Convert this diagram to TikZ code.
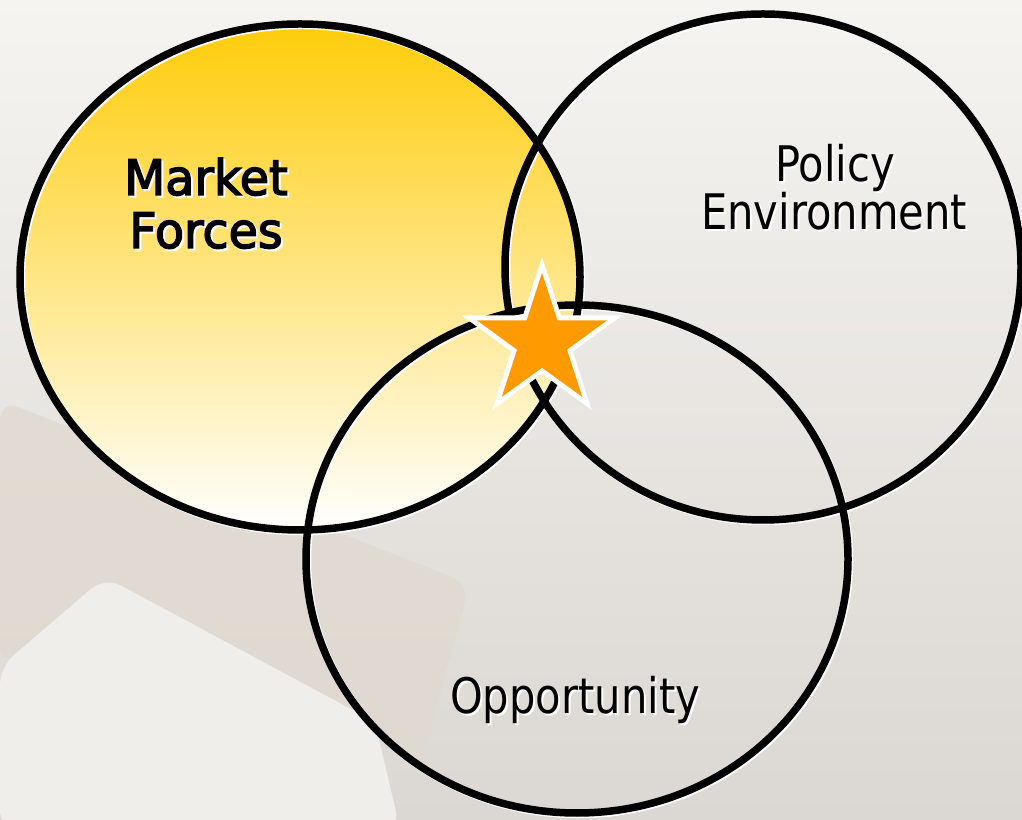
\documentclass[tikz,border=0pt]{standalone}
\usepackage{fontspec}
\newfontfamily\lblfont[FakeStretch=0.85]{DejaVu Sans}
\newfontfamily\mktfont[FakeStretch=0.97, FakeBold=3]{DejaVu Sans}
\definecolor{bgtop}{RGB}{245,244,241}
\definecolor{bgbot}{RGB}{219,215,210}
\definecolor{taupe}{RGB}{224,217,208}
\definecolor{paper}{RGB}{240,238,234}
\definecolor{goldtop}{RGB}{255,204,10}
\definecolor{goldmid}{RGB}{254,232,168}
\definecolor{starorange}{RGB}{255,155,0}
% text with a small white drop shadow
\newcommand\shadowed[1]{\leavevmode\rlap{\kern2pt\raisebox{-2pt}{\textcolor{white}{#1}}}#1}
\begin{document}
\begin{tikzpicture}[x=1pt,y=1pt,
  ring/.style={line width=7.5pt, draw=black},
  ringshadow/.style={line width=7.5pt, draw=white},
  label/.style={font={\lblfont\fontsize{49}{53}\selectfont}, inner sep=0pt, anchor=base},
  mktlabel/.style={label, font={\mktfont\fontsize{49}{53}\selectfont}}]
\useasboundingbox (0,0) rectangle (1022,819);

% backdrop
\shade[top color=bgtop, bottom color=bgbot] (0,0) rectangle (1022,819);
\fill[taupe, opacity=0.8, rounded corners=20pt]
  (0,419) -- (470,235) -- (420,50) -- (375,97) -- (105,242) -- (0,152) -- cycle;
\fill[paper, rounded corners=18pt]
  (0,152) -- (105,242) -- (375,97) -- (400,-10) -- (0,-10) -- cycle;

% filled circle: market forces
\shade[top color=goldtop, middle color=goldmid, bottom color=white]
  (300,542) ellipse [x radius=280, y radius=253];

% outlines with a faint white shadow
\begin{scope}[shift={(1.5,-1.5)}]
  \draw[ringshadow] (300,542) ellipse [x radius=280, y radius=253];
  \draw[ringshadow] (763,552) ellipse [x radius=258, y radius=253];
  \draw[ringshadow] (577,260) ellipse [x radius=271, y radius=254];
\end{scope}
\draw[ring] (300,542) ellipse [x radius=280, y radius=253];
\draw[ring] (763,552) ellipse [x radius=258, y radius=253];
\draw[ring] (577,260) ellipse [x radius=271, y radius=254];

% star at the common overlap
\begin{scope}[shift={(542,477.5)}]
  \path[fill=starorange, preaction={draw=white, line width=10pt}]
    (90:68.5) -- (126:26.2) -- (162:68.5) -- (198:26.2) -- (234:68.5) --
    (270:26.2) -- (306:68.5) -- (342:26.2) -- (18:68.5) -- (54:26.2) -- cycle;
\end{scope}

% labels
\node[mktlabel] (mkt1) at (206,624) {\shadowed{Market}};
\node[mktlabel] (mkt2) at (206,571) {\shadowed{Forces}};
\node[label] (pol1) at (835,637) {\shadowed{Policy}};
\node[label] (pol2) at (834,589) {\shadowed{Environment}};
\node[label] (opp) at (575,106) {\shadowed{Opportunity}};
\end{tikzpicture}
\end{document}
